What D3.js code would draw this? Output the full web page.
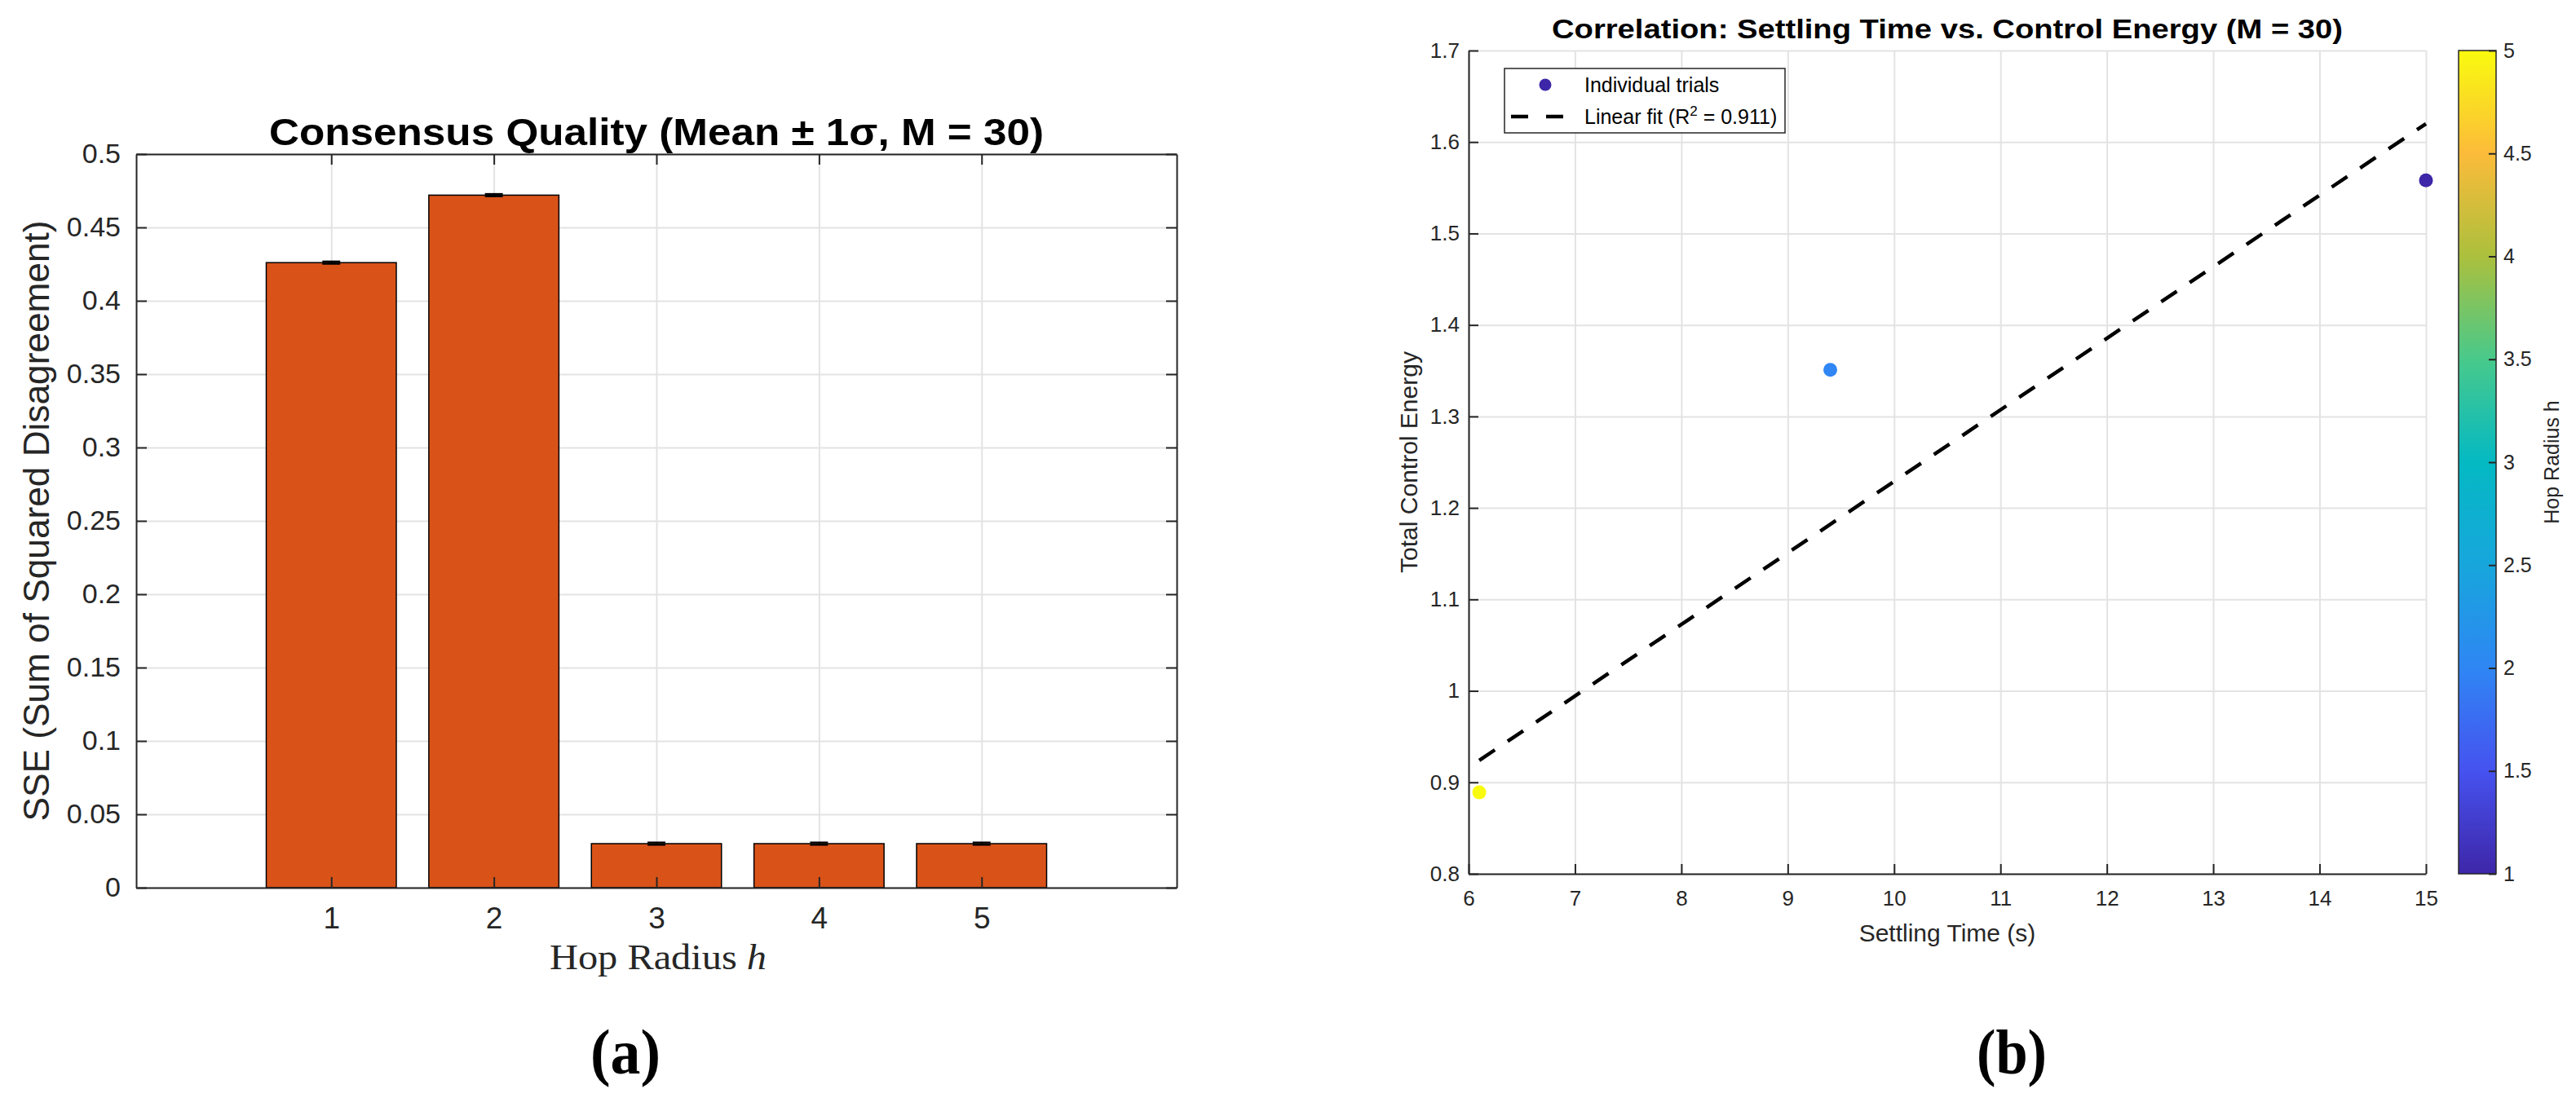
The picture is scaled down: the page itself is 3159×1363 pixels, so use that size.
<!DOCTYPE html>
<html>
<head>
<meta charset="utf-8">
<script src="https://cdn.jsdelivr.net/npm/d3@7"></script>
<style>
	body { margin: 0; background: #fff; }
	svg text { font-family: "Liberation Sans", Arial, sans-serif; fill: #262626; }
</style>
</head>
<body>
<div id="chart"></div>
<script>
"use strict";

// ---- data (a): consensus quality per hop radius ----
const hopRadius = [1, 2, 3, 4, 5];
const sseMean = [0.426, 0.472, 0.030, 0.030, 0.030];
const sseStd = [0.0008, 0.0008, 0.0008, 0.0008, 0.0008];
const sseTicks = [0, 0.05, 0.1, 0.15, 0.2, 0.25, 0.3, 0.35, 0.4, 0.45, 0.5];

// ---- data (b): settling time vs control energy ----
const settlingTime = [6.1, 9.4, 15.0];
const controlEnergy = [0.889, 1.351, 1.558];
const trialHop = [5, 2, 1];
const fitX = [6.1, 15.0];
const fitY = [0.924, 1.62];
const settleTicks = [6, 7, 8, 9, 10, 11, 12, 13, 14, 15];
const energyTicks = [0.8, 0.9, 1.0, 1.1, 1.2, 1.3, 1.4, 1.5, 1.6, 1.7];
const hopTicks = [1, 1.5, 2, 2.5, 3, 3.5, 4, 4.5, 5];

// parula colormap, sampled along the colorbar
const parulaStops = [1, 1.5, 2, 2.5, 3, 3.5, 4, 4.5, 5];
const parulaColors = ["#3e26a8", "#4652ef", "#2f86f4", "#17a6dc", "#04b9c3", "#48c98b", "#abc03d", "#fcbb3a", "#f9fb0e"];

const W = 3159, H = 1363;
const AXIS_COLOR = "#262626";
const GRID_COLOR = "#e3e3e3";

const svg = d3.select("#chart")
	.append("svg")
	.attr("width", W)
	.attr("height", H)
	.attr("viewBox", `0 0 ${W} ${H}`);

svg.append("rect").attr("width", W).attr("height", H).attr("fill", "#fff");

// style helper for axis groups
function styleAxis(g, fontSize) {
	g.selectAll(".domain").attr("stroke", AXIS_COLOR).attr("stroke-width", 2);
	g.selectAll(".tick line").attr("stroke", AXIS_COLOR).attr("stroke-width", 2);
	g.selectAll(".tick text")
		.attr("fill", AXIS_COLOR)
		.style("font-size", fontSize + "px")
		.style("font-family", '"Liberation Sans", Arial, sans-serif');
}

function gridStyle(g) {
	g.selectAll(".domain").remove();
	g.selectAll(".tick line").attr("stroke", GRID_COLOR).attr("stroke-width", 2);
}

// =====================  Panel (a)  =====================
const A = { x0: 167, x1: 1443, y0: 189, y1: 1089 };

const xA = d3.scaleLinear().domain([-0.2, 6.2]).range([A.x0, A.x1]);
const yA = d3.scaleLinear().domain([0, 0.5]).range([A.y1, A.y0]);

const panelA = svg.append("g");

// gridlines
panelA.append("g")
	.attr("transform", `translate(${A.x0},0)`)
	.call(d3.axisLeft(yA).tickValues(sseTicks).tickSize(-(A.x1 - A.x0)).tickFormat(""))
	.call(gridStyle);
panelA.append("g")
	.attr("transform", `translate(0,${A.y1})`)
	.call(d3.axisBottom(xA).tickValues(hopRadius).tickSize(-(A.y1 - A.y0)).tickFormat(""))
	.call(gridStyle);

// bars
const barW = 0.8;
panelA.selectAll("rect.bar")
	.data(hopRadius)
	.enter()
	.append("rect")
	.attr("class", "bar")
	.attr("x", (d) => xA(d - barW / 2))
	.attr("width", (d) => xA(d + barW / 2) - xA(d - barW / 2))
	.attr("y", (d, i) => yA(sseMean[i]))
	.attr("height", (d, i) => yA(0) - yA(sseMean[i]))
	.attr("fill", "#d95319")
	.attr("stroke", "#000")
	.attr("stroke-width", 1.5);

// error bars (mean +- 1 sigma)
const capHalf = 0.055;
const errG = panelA.append("g").attr("stroke", "#000").attr("stroke-width", 2.2);
hopRadius.forEach((h, i) => {
	const lo = yA(sseMean[i] - sseStd[i]);
	const hi = yA(sseMean[i] + sseStd[i]);
	errG.append("line").attr("x1", xA(h)).attr("x2", xA(h)).attr("y1", lo).attr("y2", hi);
	errG.append("line").attr("x1", xA(h - capHalf)).attr("x2", xA(h + capHalf)).attr("y1", lo).attr("y2", lo);
	errG.append("line").attr("x1", xA(h - capHalf)).attr("x2", xA(h + capHalf)).attr("y1", hi).attr("y2", hi);
});

// axes (box on)
const aLeft = panelA.append("g")
	.attr("transform", `translate(${A.x0},0)`)
	.call(d3.axisLeft(yA).tickValues(sseTicks).tickSizeInner(-13).tickSizeOuter(0).tickPadding(19)
		.tickFormat((d) => String(+d.toFixed(2))));
styleAxis(aLeft, 34);

const aBottom = panelA.append("g")
	.attr("transform", `translate(0,${A.y1})`)
	.call(d3.axisBottom(xA).tickValues(hopRadius).tickSizeInner(-13).tickSizeOuter(0).tickPadding(24)
		.tickFormat(d3.format("d")));
styleAxis(aBottom, 37);

const aTop = panelA.append("g")
	.attr("transform", `translate(0,${A.y0})`)
	.call(d3.axisTop(xA).tickValues(hopRadius).tickSizeInner(-13).tickSizeOuter(0).tickFormat(""));
styleAxis(aTop, 10);

const aRight = panelA.append("g")
	.attr("transform", `translate(${A.x1},0)`)
	.call(d3.axisRight(yA).tickValues(sseTicks).tickSizeInner(-13).tickSizeOuter(0).tickFormat(""));
styleAxis(aRight, 10);

// titles and labels
panelA.append("text")
	.attr("x", (A.x0 + A.x1) / 2)
	.attr("y", 178)
	.attr("text-anchor", "middle")
	.attr("textLength", 950)
	.attr("lengthAdjust", "spacingAndGlyphs")
	.style("font-size", "47px")
	.style("font-weight", "bold")
	.style("fill", "#000")
	.text("Consensus Quality (Mean \u00b1 1\u03c3, M = 30)");

panelA.append("text")
	.attr("transform", `translate(60,${(A.y0 + A.y1) / 2}) rotate(-90)`)
	.attr("text-anchor", "middle")
	.attr("textLength", 737)
	.attr("lengthAdjust", "spacingAndGlyphs")
	.style("font-size", "44px")
	.text("SSE (Sum of Squared Disagreement)");

const xLabA = panelA.append("text")
	.attr("x", 807)
	.attr("y", 1189)
	.attr("text-anchor", "middle")
	.attr("textLength", 266)
	.attr("lengthAdjust", "spacingAndGlyphs")
	.style("font-family", '"Liberation Serif", "Times New Roman", serif')
	.style("font-size", "44px");
xLabA.append("tspan").text("Hop Radius ");
xLabA.append("tspan").style("font-style", "italic").text("h");

// =====================  Panel (b)  =====================
const B = { x0: 1801, x1: 2975, y0: 62, y1: 1072 };

const xB = d3.scaleLinear().domain([6, 15]).range([B.x0, B.x1]);
const yB = d3.scaleLinear().domain([0.8, 1.7]).range([B.y1, B.y0]);
const hopColor = d3.scaleLinear().domain(parulaStops).range(parulaColors).interpolate(d3.interpolateRgb);

const panelB = svg.append("g");

// gridlines
panelB.append("g")
	.attr("transform", `translate(${B.x0},0)`)
	.call(d3.axisLeft(yB).tickValues(energyTicks).tickSize(-(B.x1 - B.x0)).tickFormat(""))
	.call(gridStyle);
panelB.append("g")
	.attr("transform", `translate(0,${B.y1})`)
	.call(d3.axisBottom(xB).tickValues(settleTicks).tickSize(-(B.y1 - B.y0)).tickFormat(""))
	.call(gridStyle);

// axes (box off)
const bLeft = panelB.append("g")
	.attr("transform", `translate(${B.x0},0)`)
	.call(d3.axisLeft(yB).tickValues(energyTicks).tickSizeInner(-12).tickSizeOuter(0).tickPadding(11)
		.tickFormat((d) => String(+d.toFixed(1))));
styleAxis(bLeft, 26);

const bBottom = panelB.append("g")
	.attr("transform", `translate(0,${B.y1})`)
	.call(d3.axisBottom(xB).tickValues(settleTicks).tickSizeInner(-12).tickSizeOuter(0).tickPadding(21));
styleAxis(bBottom, 26);

// linear fit
const fitLine = d3.line().x((d) => xB(d[0])).y((d) => yB(d[1]));
panelB.append("path")
	.datum(d3.zip(fitX, fitY))
	.attr("d", fitLine)
	.attr("fill", "none")
	.attr("stroke", "#000")
	.attr("stroke-width", 4.5)
	.attr("stroke-dasharray", "23,19");

// individual trials
panelB.selectAll("circle.trial")
	.data(settlingTime)
	.enter()
	.append("circle")
	.attr("class", "trial")
	.attr("cx", (d) => xB(d))
	.attr("cy", (d, i) => yB(controlEnergy[i]))
	.attr("r", 8.5)
	.attr("fill", (d, i) => hopColor(trialHop[i]));

// legend
const leg = panelB.append("g");
leg.append("rect")
	.attr("x", 1845).attr("y", 84)
	.attr("width", 344).attr("height", 79)
	.attr("fill", "#fff")
	.attr("stroke", AXIS_COLOR)
	.attr("stroke-width", 1.5);
leg.append("circle").attr("cx", 1895).attr("cy", 104).attr("r", 7.5).attr("fill", hopColor(1));
leg.append("line")
	.attr("x1", 1853).attr("x2", 1917).attr("y1", 143).attr("y2", 143)
	.attr("stroke", "#000").attr("stroke-width", 4.5).attr("stroke-dasharray", "21,22");
leg.append("text").attr("x", 1943).attr("y", 113).style("font-size", "25px").style("fill", "#000").text("Individual trials");
const legFit = leg.append("text").attr("x", 1943).attr("y", 152).style("font-size", "25px").style("fill", "#000");
legFit.append("tspan").text("Linear fit (R");
legFit.append("tspan").attr("dy", -10).style("font-size", "17px").text("2");
legFit.append("tspan").attr("dy", 10).text(" = 0.911)");

// titles and labels
panelB.append("text")
	.attr("x", (B.x0 + B.x1) / 2)
	.attr("y", 47)
	.attr("text-anchor", "middle")
	.attr("textLength", 970)
	.attr("lengthAdjust", "spacingAndGlyphs")
	.style("font-size", "33px")
	.style("font-weight", "bold")
	.style("fill", "#000")
	.text("Correlation: Settling Time vs. Control Energy (M = 30)");

panelB.append("text")
	.attr("x", (B.x0 + B.x1) / 2)
	.attr("y", 1155)
	.attr("text-anchor", "middle")
	.style("font-size", "30px")
	.text("Settling Time (s)");

panelB.append("text")
	.attr("transform", `translate(1738,${(B.y0 + B.y1) / 2}) rotate(-90)`)
	.attr("text-anchor", "middle")
	.style("font-size", "30px")
	.text("Total Control Energy");

// colorbar
const CB = { x0: 3015, x1: 3061 };
const cScale = d3.scaleLinear().domain([1, 5]).range([B.y1, B.y0]);
const grad = svg.append("defs").append("linearGradient")
	.attr("id", "parula")
	.attr("x1", 0).attr("y1", 1).attr("x2", 0).attr("y2", 0);
grad.selectAll("stop")
	.data(parulaStops)
	.enter()
	.append("stop")
	.attr("offset", (d) => (d - 1) / 4)
	.attr("stop-color", (d, i) => parulaColors[i]);

panelB.append("rect")
	.attr("x", CB.x0).attr("y", B.y0)
	.attr("width", CB.x1 - CB.x0).attr("height", B.y1 - B.y0)
	.attr("fill", "url(#parula)")
	.attr("stroke", AXIS_COLOR)
	.attr("stroke-width", 1.5);

const cAxis = panelB.append("g")
	.attr("transform", `translate(${CB.x1},0)`)
	.call(d3.axisRight(cScale).tickValues(hopTicks).tickSizeInner(-9).tickSizeOuter(0).tickPadding(9)
		.tickFormat((d) => String(d)));
styleAxis(cAxis, 25);
cAxis.select(".domain").remove();

panelB.append("text")
	.attr("transform", `translate(3138,${(B.y0 + B.y1) / 2}) rotate(-90)`)
	.attr("text-anchor", "middle")
	.style("font-size", "25px")
	.text("Hop Radius h");

// sub-figure captions
[["(a)", 767], ["(b)", 2467]].forEach(([lab, cx]) => {
	svg.append("text")
		.attr("x", cx)
		.attr("y", 1317)
		.attr("text-anchor", "middle")
		.attr("textLength", 86)
		.attr("lengthAdjust", "spacingAndGlyphs")
		.style("font-family", '"Liberation Serif", "Times New Roman", serif')
		.style("font-size", "78px")
		.style("font-weight", "bold")
		.style("fill", "#000")
		.text(lab);
});
</script>
</body>
</html>
